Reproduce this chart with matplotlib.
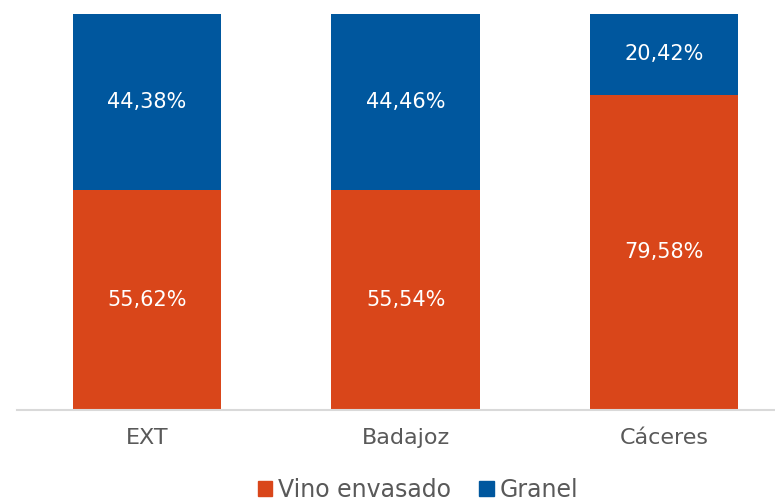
import matplotlib.pyplot as plt
from matplotlib.patches import Patch

categories = ['EXT', 'Badajoz', 'Cáceres']
envasado = [55.62, 55.54, 79.58]
granel = [44.38, 44.46, 20.42]
series_names = ['Vino envasado', 'Granel']

c_env = '#D9461A'
c_gra = '#00579E'

plt.rcParams['font.family'] = ['DejaVu Sans']

fig = plt.figure(figsize=(7.75, 5.01), dpi=100)
ax = fig.add_axes([17 / 775, 91 / 501, 758 / 775, 396 / 501])

x = list(range(len(categories)))
w = 0.573
ax.bar(x, envasado, width=w, color=c_env)
ax.bar(x, granel, width=w, bottom=envasado, color=c_gra)

for i in x:
    ax.text(i, envasado[i] / 2, f'{envasado[i]:.2f}%'.replace('.', ','),
            ha='center', va='center', color='white', fontsize=15)
    ax.text(i, envasado[i] + granel[i] / 2, f'{granel[i]:.2f}%'.replace('.', ','),
            ha='center', va='center', color='white', fontsize=15)

ax.set_xlim(-0.503, 2.429)
ax.set_ylim(0, 100)
ax.set_xticks(x)
ax.set_xticklabels(categories, fontsize=16, color='#595959')
ax.tick_params(axis='x', length=0, pad=13)
ax.set_yticks([])
for s in ['top', 'right', 'left']:
    ax.spines[s].set_visible(False)
ax.spines['bottom'].set_color('#D9D9D9')
ax.spines['bottom'].set_linewidth(1.5)

handles = [Patch(color=c_env), Patch(color=c_gra)]
fig.legend(handles, series_names, loc='center', bbox_to_anchor=(418 / 775, 11 / 501),
           ncol=2, frameon=False, fontsize=17, handlelength=0.6, handleheight=0.6,
           handletextpad=0.25, columnspacing=1.2, labelcolor='#595959')

fig.savefig('out.png', dpi=100)
